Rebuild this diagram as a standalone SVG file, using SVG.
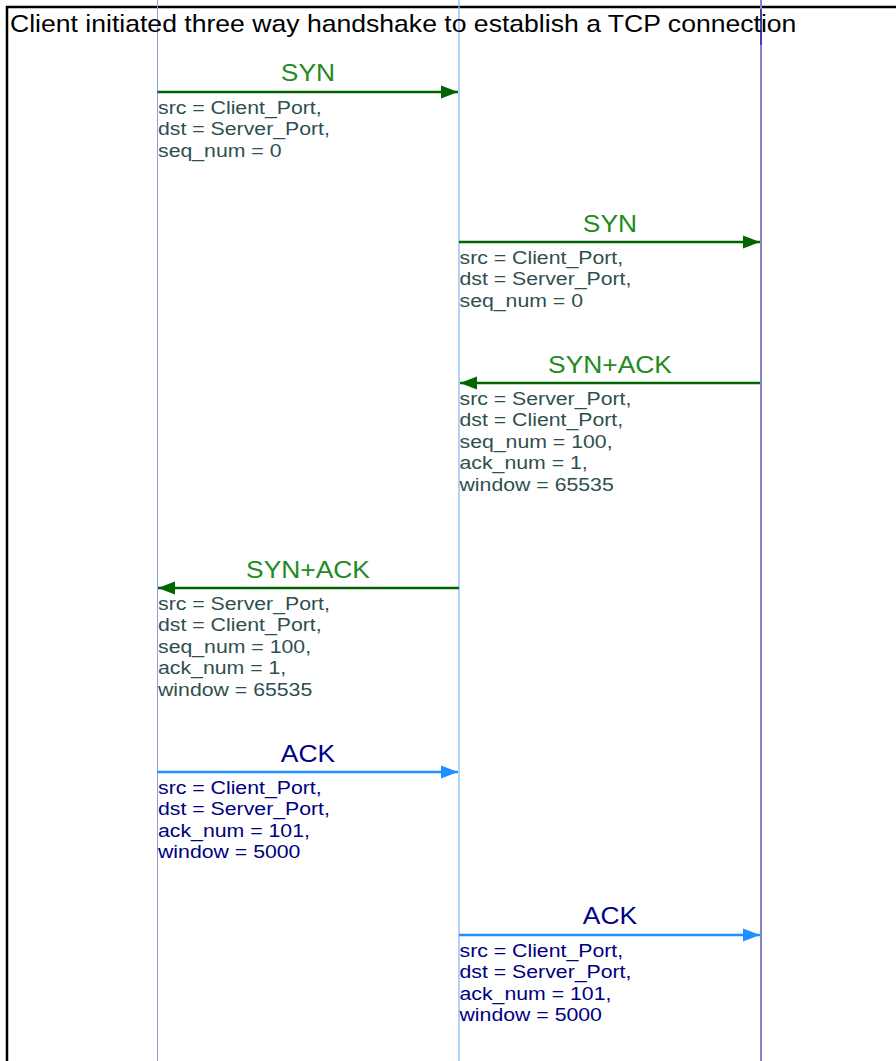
<svg xmlns="http://www.w3.org/2000/svg" width="896" height="1061" viewBox="0 0 896 1061">
<style>
text{font-family:"Liberation Sans",Arial,sans-serif}
.title{font-size:24px;fill:#000}
.lbl{font-size:24px;text-anchor:middle}
.det{font-size:18.5px}
.g{fill:#228B22}
.gd{fill:#2F4F4F}
.b{fill:#00008B}
.bd{fill:#000080}
.aG{stroke:#006400;stroke-width:2.5;fill:none}
.aB{stroke:#1E90FF;stroke-width:2.5;fill:none}
</style>
<defs>
<marker id="hG" markerUnits="userSpaceOnUse" markerWidth="18" markerHeight="14" refX="17" refY="7" orient="auto"><path d="M0,0.5 L17,7 L0,13.5 Z" fill="#006400"/></marker>
<marker id="hB" markerUnits="userSpaceOnUse" markerWidth="18" markerHeight="14" refX="17" refY="7" orient="auto"><path d="M0,0.5 L17,7 L0,13.5 Z" fill="#1E90FF"/></marker>
</defs>
<rect width="896" height="1061" fill="#fff"/>
<rect id="frame" x="7" y="7" width="900" height="1070" fill="none" stroke="#000" stroke-width="2.5"/>
<g id="lifelines">
<line x1="157.5" y1="0" x2="157.5" y2="1061" stroke="#9a9ae6" stroke-width="1"/>
<line x1="459" y1="0" x2="459" y2="1061" stroke="#8cb8f5" stroke-width="1.3"/>
<line x1="761" y1="0" x2="761" y2="1061" stroke="#8484c8" stroke-width="2"/>
<line x1="761" y1="9" x2="761" y2="45" stroke="#4040a8" stroke-width="2"/>
</g>
<text id="title" class="title" transform="translate(10,32) scale(1.108,1)">Client initiated three way handshake to establish a TCP connection</text>
<g id="connectors">
<line class="aG" x1="157.5" y1="92" x2="458" y2="92" marker-end="url(#hG)"/>
<line class="aG" x1="459" y1="242" x2="760" y2="242" marker-end="url(#hG)"/>
<line class="aG" x1="760" y1="383" x2="460" y2="383" marker-end="url(#hG)"/>
<line class="aG" x1="459" y1="588" x2="158" y2="588" marker-end="url(#hG)"/>
<line class="aB" x1="157.5" y1="772" x2="458" y2="772" marker-end="url(#hB)"/>
<line class="aB" x1="459" y1="935" x2="760" y2="935" marker-end="url(#hB)"/>
</g>
<g id="msg1">
<text class="lbl g" transform="translate(308,81) scale(1.1,1)">SYN</text>
<g class="det gd" transform="translate(158,0) scale(1.15,1)">
<text x="0" y="114">src = Client_Port,</text>
<text x="0" y="135.5">dst = Server_Port,</text>
<text x="0" y="157">seq_num = 0</text>
</g>
</g>
<g id="msg2">
<text class="lbl g" transform="translate(610,232) scale(1.1,1)">SYN</text>
<g class="det gd" transform="translate(459.5,0) scale(1.15,1)">
<text x="0" y="264">src = Client_Port,</text>
<text x="0" y="285.5">dst = Server_Port,</text>
<text x="0" y="307">seq_num = 0</text>
</g>
</g>
<g id="msg3">
<text class="lbl g" transform="translate(610,373) scale(1.1,1)">SYN+ACK</text>
<g class="det gd" transform="translate(459.5,0) scale(1.15,1)">
<text x="0" y="405">src = Server_Port,</text>
<text x="0" y="426.5">dst = Client_Port,</text>
<text x="0" y="448">seq_num = 100,</text>
<text x="0" y="469.5">ack_num = 1,</text>
<text x="0" y="491">window = 65535</text>
</g>
</g>
<g id="msg4">
<text class="lbl g" transform="translate(308,578) scale(1.1,1)">SYN+ACK</text>
<g class="det gd" transform="translate(158,0) scale(1.15,1)">
<text x="0" y="610">src = Server_Port,</text>
<text x="0" y="631.5">dst = Client_Port,</text>
<text x="0" y="653">seq_num = 100,</text>
<text x="0" y="674.5">ack_num = 1,</text>
<text x="0" y="696">window = 65535</text>
</g>
</g>
<g id="msg5">
<text class="lbl b" transform="translate(308,762) scale(1.1,1)">ACK</text>
<g class="det bd" transform="translate(158,0) scale(1.15,1)">
<text x="0" y="794">src = Client_Port,</text>
<text x="0" y="815.5">dst = Server_Port,</text>
<text x="0" y="837">ack_num = 101,</text>
<text x="0" y="858.5">window = 5000</text>
</g>
</g>
<g id="msg6">
<text class="lbl b" transform="translate(610,924) scale(1.1,1)">ACK</text>
<g class="det bd" transform="translate(459.5,0) scale(1.15,1)">
<text x="0" y="957">src = Client_Port,</text>
<text x="0" y="978.5">dst = Server_Port,</text>
<text x="0" y="1000">ack_num = 101,</text>
<text x="0" y="1021.5">window = 5000</text>
</g>
</g>
</svg>
